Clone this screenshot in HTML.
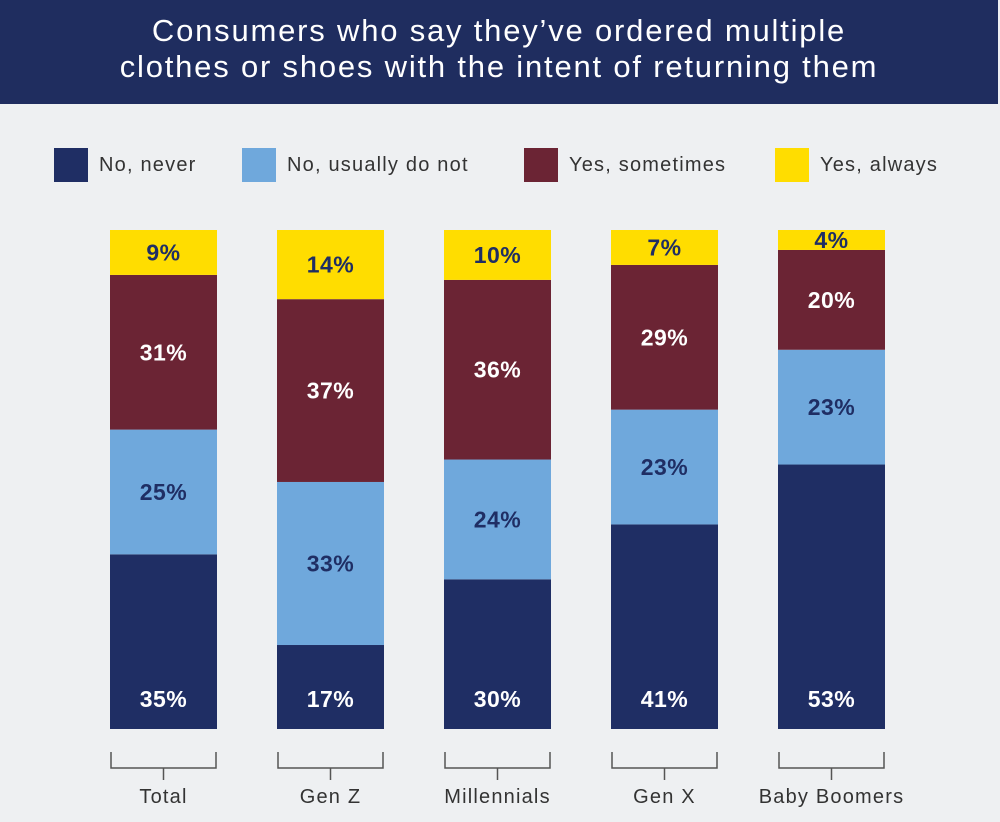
<!DOCTYPE html>
<html><head><meta charset="utf-8">
<style>
body{margin:0;width:1000px;height:822px;background:#eef0f2;font-family:"Liberation Sans",sans-serif;overflow:hidden;position:relative}
#banner{position:absolute;left:0;top:0;width:998px;height:104px;background:#1f2d5f;color:#fff;text-align:center;font-size:31px;line-height:36px;letter-spacing:1.8px;padding-top:13px;box-sizing:border-box}
.leg{position:absolute;top:148px;height:34px;display:flex;align-items:center;font-size:20px;color:#333;letter-spacing:1.2px}
.leg span.sw{width:34px;height:34px;margin-right:11px;display:inline-block}
</style></head><body>
<div id="banner">Consumers who say they’ve ordered multiple<br>clothes or shoes with the intent of returning them</div>
<div class="leg" style="left:54px"><span class="sw" style="background:#1f2e64"></span>No, never</div>
<div class="leg" style="left:242px"><span class="sw" style="background:#6fa8dc"></span>No, usually do not</div>
<div class="leg" style="left:524px"><span class="sw" style="background:#6b2434"></span>Yes, sometimes</div>
<div class="leg" style="left:775px"><span class="sw" style="background:#ffdd00"></span>Yes, always</div>
<svg id="chart" width="1000" height="822" style="position:absolute;left:0;top:0"></svg>
<script>
const categories=["Total","Gen Z","Millennials","Gen X","Baby Boomers"];
const neverVals=[35,17,30,41,53];
const usuallyNotVals=[25,33,24,23,23];
const sometimesVals=[31,37,36,29,20];
const alwaysVals=[9,14,10,7,4];
const series=[neverVals,usuallyNotVals,sometimesVals,alwaysVals];
const names=["never","usually-not","sometimes","always"];
const colors=["#1f2e64","#6fa8dc","#6b2434","#ffdd00"];
const textCol=["#fff","#1f2e64","#fff","#1f2e64"];
const NS="http://www.w3.org/2000/svg";
const svg=document.getElementById('chart');
const base=729,topY=230,x0=110,step=167,bw=107;
function xPos(i){return x0+i*step;}
function mk(t,a){const e=document.createElementNS(NS,t);for(const k in a)e.setAttribute(k,a[k]);svg.appendChild(e);return e;}
categories.forEach((c,i)=>{
  let sum=0;series.forEach(s=>sum+=s[i]);
  const sc=(base-topY)/sum;
  let y=base;
  series.forEach((s,j)=>{
    const h=s[i]*sc;
    const r=mk('rect',{x:xPos(i),y:y-h,width:bw,height:h,fill:colors[j]});
    
    
    const ty=j===0?base-30:y-h/2;
    const t=mk('text',{x:xPos(i)+bw/2,y:ty+8,'text-anchor':'middle','font-size':23,'font-weight':'bold',fill:textCol[j],'letter-spacing':'0.5','font-family':'Liberation Sans, sans-serif'});
    t.textContent=s[i]+'%';
    
    
    y-=h;
  });
  const p=mk('path',{d:`M${xPos(i)+1} 752V768H${xPos(i)+bw-1}V752M${xPos(i)+bw/2} 768V780`,stroke:'#555',fill:'none','stroke-width':1.5});
  
  
  const l=mk('text',{x:xPos(i)+bw/2,y:803,'text-anchor':'middle','font-size':20,fill:'#333','letter-spacing':'1.2','font-family':'Liberation Sans, sans-serif'});
  l.textContent=c;
  
  
});
</script>
</body></html>
